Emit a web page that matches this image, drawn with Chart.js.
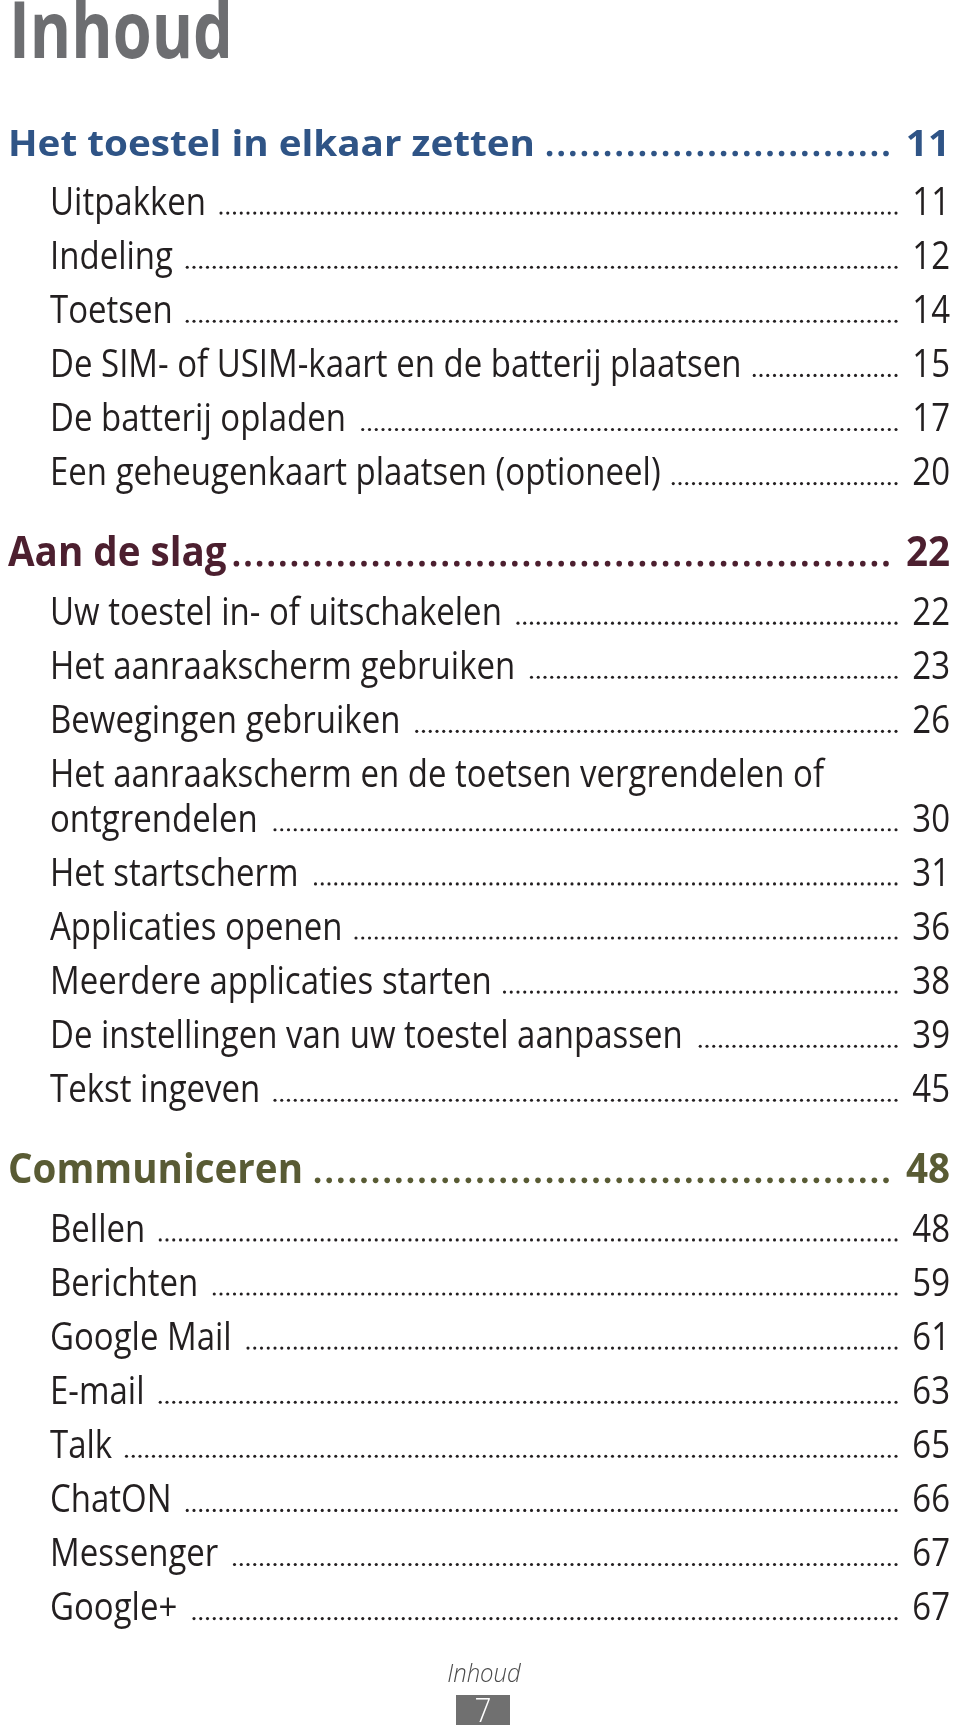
<!DOCTYPE html>
<html><head><meta charset="utf-8">
<script src="https://cdn.jsdelivr.net/npm/chart.js@4/dist/chart.umd.min.js"></script>
<style>html,body{margin:0;padding:0;background:#fff}#wrap{width:960px;height:1731px;position:relative}</style>
</head><body><div id="wrap"><canvas id="c"></canvas></div>
<script>
const pageTitle = "Inhoud";
const sectionTitles = ["Het toestel in elkaar zetten", "Aan de slag", "Communiceren"];
const sectionPages = [11, 22, 48];
const entryTitles = [
  "Uitpakken", "Indeling", "Toetsen", "De SIM- of USIM-kaart en de batterij plaatsen",
  "De batterij opladen", "Een geheugenkaart plaatsen (optioneel)",
  "Uw toestel in- of uitschakelen", "Het aanraakscherm gebruiken", "Bewegingen gebruiken",
  "Het aanraakscherm en de toetsen vergrendelen of\nontgrendelen", "Het startscherm",
  "Applicaties openen", "Meerdere applicaties starten", "De instellingen van uw toestel aanpassen",
  "Tekst ingeven",
  "Bellen", "Berichten", "Google Mail", "E-mail", "Talk", "ChatON", "Messenger", "Google+"
];
const entryPages = [11, 12, 14, 15, 17, 20, 22, 23, 26, 30, 31, 36, 38, 39, 45, 48, 59, 61, 63, 65, 66, 67, 67];
const entrySection = [0,0,0,0,0,0, 1,1,1,1,1,1,1,1,1, 2,2,2,2,2,2,2,2];
const footerLabel = "Inhoud";
const pageNumber = "7";

const sectionColors = ["#2f5486", "#4c1f2f", "#595b34"];
const textColor = "#231f20";

// layout rows in line units
const rows = [];
let yy = 2.89;
sectionTitles.forEach((t, s) => {
  if (s > 0) yy += 1.5;
  rows.push({kind: 'section', text: t, page: sectionPages[s], sec: s, y: yy});
  let first = true;
  entryTitles.forEach((et, i) => {
    if (entrySection[i] !== s) return;
    yy += first ? 1.08 : 1; first = false;
    const lines = et.split("\n");
    lines.forEach((ln, k) => {
      if (k > 0) yy += 0.82;
      rows.push({kind: 'entry', text: ln, page: k === lines.length - 1 ? entryPages[i] : null, y: yy});
    });
  });
});

const FONT_ITEM = '400 38px "Open Sans"';
const FONT_H1 = '700 35px "Open Sans"';
const FONT_H2 = '700 41px "Open Sans"';
const FONT_TITLE = '700 78px "Open Sans"';

function measure(ctx, font, txt) { ctx.save(); ctx.font = font; const w = ctx.measureText(txt).width; ctx.restore(); return w; }
function drawText(ctx, txt, x, y, font, color, sx, align) {
  ctx.save();
  ctx.font = font; ctx.fillStyle = color; ctx.textBaseline = 'alphabetic';
  const w = ctx.measureText(txt).width * sx;
  let x0 = x;
  if (align === 'right') x0 = x - w; else if (align === 'center') x0 = x - w / 2;
  ctx.translate(x0, y); ctx.scale(sx, 1); ctx.textAlign = 'left';
  ctx.fillText(txt, 0, 0);
  ctx.restore();
  return x0 + w;
}
function dots(ctx, fromX, toX, y, r, step, color) {
  ctx.save(); ctx.fillStyle = color;
  for (let x = toX; x >= fromX; x -= step) {
    ctx.beginPath(); ctx.arc(x, y, r, 0, Math.PI * 2); ctx.fill();
  }
  ctx.restore();
}

const tocPlugin = {
  id: 'toc',
  afterDatasetsDraw(chart) {
    const ctx = chart.ctx, xs = chart.scales.x, ys = chart.scales.y;
    const X = v => xs.getPixelForValue(v);
    const sItem = 691.5 / measure(ctx, FONT_ITEM, entryTitles[3]);
    const sH1 = 527 / measure(ctx, FONT_H1, sectionTitles[0]);
    const sH2 = 295 / measure(ctx, FONT_H2, sectionTitles[2]);
    const sTitle = 224 / measure(ctx, FONT_TITLE, pageTitle);

    drawText(ctx, pageTitle, X(9), 58, FONT_TITLE, "#6d6e71", sTitle, 'left');

    rows.forEach(r => {
      const by = ys.getPixelForValue(r.y);
      if (r.kind === 'section') {
        const font = r.sec === 0 ? FONT_H1 : FONT_H2;
        const sx = r.sec === 0 ? sH1 : sH2;
        const col = sectionColors[r.sec];
        const end = drawText(ctx, r.text, X(8), by, font, col, sx, 'left');
        drawText(ctx, String(r.page), X(950), by, font, col, sx, 'right');
        dots(ctx, end + 5, X(886), by - 2.8, 2.8, 11.6, col);
      } else {
        const end = drawText(ctx, r.text, X(50), by, FONT_ITEM, textColor, sItem, 'left');
        if (r.page !== null) {
          drawText(ctx, String(r.page), X(950), by, FONT_ITEM, textColor, sItem, 'right');
          dots(ctx, end + 12, X(896), by - 1.7, 1.55, 6.75, textColor);
        }
      }
    });

    // footer
    drawText(ctx, footerLabel, X(484), 1682, 'italic 300 26px "Open Sans"', "#4a4a4a", 0.92, 'center');
    ctx.save(); ctx.fillStyle = "#707070"; ctx.fillRect(X(456), 1695, X(510) - X(456), 30); ctx.restore();
    drawText(ctx, pageNumber, X(483), 1722, '300 33px "Open Sans"', "#ffffff", 0.9, 'center');
  }
};

new Chart(document.getElementById('c'), {
  type: 'scatter',
  data: { datasets: [{ data: rows.map(r => ({x: 0, y: r.y})), pointRadius: 0, pointHoverRadius: 0 }] },
  options: {
    responsive: true, maintainAspectRatio: false, animation: false,
    layout: { padding: 0 },
    events: [],
    plugins: { legend: { display: false }, tooltip: { enabled: false } },
    scales: {
      x: { type: 'linear', min: 0, max: 960, display: false },
      y: { type: 'linear', min: 0, max: 1731 / 54.1, reverse: true, display: false }
    }
  },
  plugins: [tocPlugin]
});
</script></body></html>
